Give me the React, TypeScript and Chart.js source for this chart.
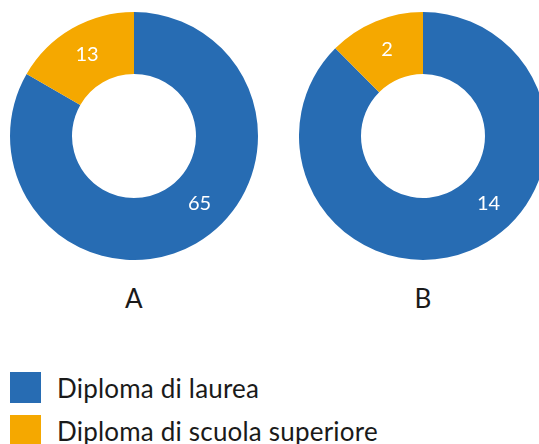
import React, { useEffect, useRef } from "react";
import { Chart, registerables } from "chart.js";

Chart.register(...registerables);

const categories = ["Diploma di laurea", "Diploma di scuola superiore"];
const groups = ["A", "B"];
const valuesA = [65, 13];
const valuesB = [14, 2];
const colors = ["#276cb3", "#f5a800"];

const FONT = "Lato, 'Noto Sans', sans-serif";

const labelPlugin = {
  id: "sliceLabels",
  afterDatasetsDraw(chart: any) {
    const ctx = chart.ctx;
    const meta = chart.getDatasetMeta(0);
    const ds = chart.data.datasets[0];
    const overrides = chart.options.plugins.sliceLabels?.angles || [];
    ctx.save();
    ctx.fillStyle = "#ffffff";
    ctx.font = `20px ${FONT}`;
    ctx.textAlign = "center";
    ctx.textBaseline = "middle";
    meta.data.forEach((arc: any, i: number) => {
      const p = arc.getProps(["x", "y", "startAngle", "endAngle", "innerRadius", "outerRadius"], true);
      let a = (p.startAngle + p.endAngle) / 2;
      if (overrides[i] != null) a = overrides[i];
      const r = (p.innerRadius + p.outerRadius) / 2 + 1;
      ctx.fillText(String(ds.data[i]), p.x + Math.cos(a) * r, p.y + Math.sin(a) * r);
    });
    ctx.restore();
  },
};

function Donut({ values, left }: { values: number[]; left: number }) {
  const ref = useRef<HTMLCanvasElement>(null);
  useEffect(() => {
    const chart = new Chart(ref.current!, {
      type: "doughnut",
      data: {
        labels: categories,
        datasets: [{ data: values, backgroundColor: colors, borderWidth: 0 }],
      },
      options: {
        responsive: false,
        animation: false,
        cutout: "50%",
        layout: { padding: 0 },
        plugins: {
          legend: { display: false },
          tooltip: { enabled: false },
          sliceLabels: { angles: [0.8] },
        } as any,
      },
      plugins: [labelPlugin],
    });
    return () => chart.destroy();
  }, []);
  return (
    <canvas
      ref={ref}
      width={248}
      height={248}
      style={{ position: "absolute", left, top: 12, width: 248, height: 248 }}
    />
  );
}

export default function App() {
  const textStyle: React.CSSProperties = {
    position: "absolute",
    fontFamily: FONT,
    fontSize: 26,
    color: "#1a1a1a",
    lineHeight: "30px",
    whiteSpace: "nowrap",
    letterSpacing: "0.2px",
  };
  return (
    <div
      style={{
        position: "fixed",
        left: 0,
        top: 0,
        width: 539,
        height: 444,
        overflow: "hidden",
        background: "#fff",
      }}
    >
      <Donut values={valuesA} left={10} />
      <Donut values={valuesB} left={299} />
      <div style={{ ...textStyle, left: 134, top: 283, transform: "translateX(-50%)" }}>{groups[0]}</div>
      <div style={{ ...textStyle, left: 423, top: 283, transform: "translateX(-50%)" }}>{groups[1]}</div>
      {categories.map((c, i) => (
        <React.Fragment key={c}>
          <div
            style={{
              position: "absolute",
              left: 10,
              top: 372 + i * 43,
              width: 31,
              height: 31,
              background: colors[i],
            }}
          />
          <div style={{ ...textStyle, left: 57, top: 373 + i * 43 }}>{c}</div>
        </React.Fragment>
      ))}
    </div>
  );
}
